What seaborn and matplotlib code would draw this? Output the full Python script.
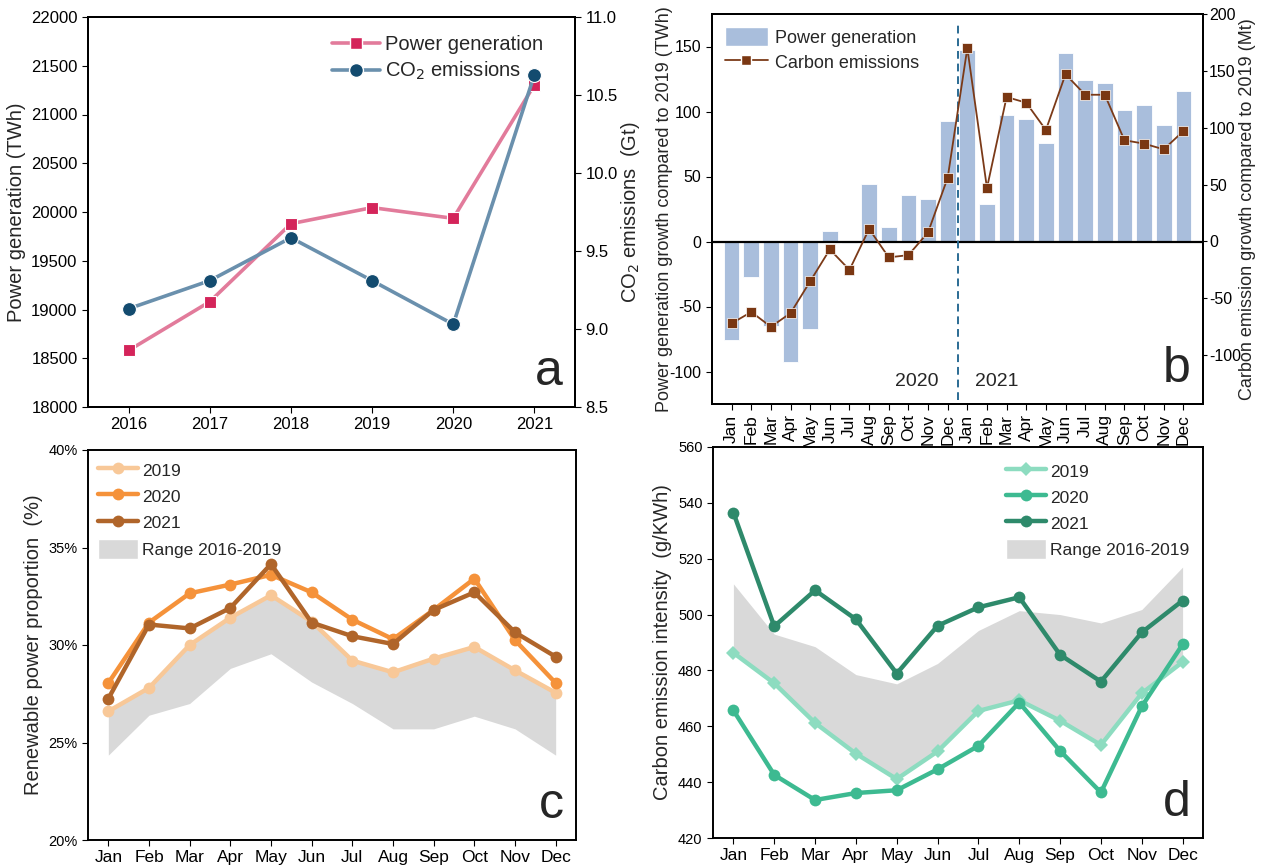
import numpy as np
import pandas as pd
import matplotlib
matplotlib.use("Agg")
import matplotlib.pyplot as plt
import seaborn as sns
from matplotlib.ticker import PercentFormatter
from matplotlib.lines import Line2D
from matplotlib.patches import Patch

# ---- panel a: annual totals
years = [2016, 2017, 2018, 2019, 2020, 2021]
power_twh = [18580, 19080, 19880, 20045, 19935, 21305]
co2_gt = [9.13, 9.31, 9.585, 9.31, 9.03, 10.63]

# ---- panel b: monthly growth vs 2019 (Jan 2020 .. Dec 2021)
months = ["Jan", "Feb", "Mar", "Apr", "May", "Jun",
          "Jul", "Aug", "Sep", "Oct", "Nov", "Dec"]
power_growth = [-76, -27, -65, -93, -67, 8, -1, 44, 11, 36, 33, 93,
                147, 29, 97, 94, 76, 145, 124, 122, 101, 105, 90, 116]
carbon_growth = [-72, -62, -75, -63, -35, -7, -25, 11, -14, -12, 8, 56,
                 170, 47, 127, 122, 98, 147, 129, 129, 89, 86, 81, 97]

# ---- panel c: renewable share (%)
renew_2019 = [26.6, 27.8, 30.0, 31.4, 32.55, 31.2, 29.2, 28.6, 29.3, 29.9, 28.7, 27.55]
renew_2020 = [28.05, 31.15, 32.65, 33.1, 33.6, 32.7, 31.3, 30.3, 31.8, 33.4, 30.25, 28.05]
renew_2021 = [27.25, 31.05, 30.85, 31.9, 34.15, 31.15, 30.45, 30.05, 31.8, 32.7, 30.65, 29.4]
renew_hi = [26.6, 27.8, 30.0, 31.4, 32.5, 31.2, 29.2, 28.6, 29.3, 29.9, 28.7, 27.5]
renew_lo = [24.35, 26.4, 27.0, 28.8, 29.55, 28.1, 27.0, 25.7, 25.7, 26.35, 25.7, 24.35]

# ---- panel d: carbon intensity (g/kWh)
inten_2019 = [486.3, 475.4, 461.2, 450.2, 441.1, 451.0, 465.5, 469.3, 462.0, 453.3, 471.8, 483.0]
inten_2020 = [465.7, 442.6, 433.6, 436.1, 437.1, 444.6, 453.0, 468.5, 451.2, 436.3, 467.1, 489.3]
inten_2021 = [536.5, 495.8, 508.7, 498.3, 478.9, 496.0, 502.6, 506.2, 485.6, 476.0, 493.6, 505.0]
inten_hi = [511, 493, 488.5, 478.5, 475.2, 482.5, 494.3, 501.4, 500, 497, 501.8, 517]
inten_lo = [487, 475, 461, 450, 441, 451, 465.5, 469, 462, 453, 471.5, 483]

sns.set_style("ticks")
plt.rcParams["font.family"] = ["Liberation Sans", "DejaVu Sans"]
plt.rcParams["axes.unicode_minus"] = False
plt.rcParams["axes.edgecolor"] = "black"
plt.rcParams["axes.linewidth"] = 1.4
plt.rcParams["xtick.color"] = "black"
plt.rcParams["ytick.color"] = "black"
plt.rcParams["xtick.major.size"] = 4
plt.rcParams["ytick.major.size"] = 4

W, H = 1266, 865
fig = plt.figure(figsize=(W / 100, H / 100), dpi=100)


def box(l, t, r, b):
    return [l / W, 1 - b / H, (r - l) / W, (b - t) / H]


# ================= a =================
ax_a = fig.add_axes(box(88, 17, 575, 407))
pink_line, pink_mk = "#e27b9b", "#d4245a"
blue_line, blue_mk = "#6a90ad", "#134b6f"
sns.lineplot(x=years, y=power_twh, ax=ax_a, color=pink_line, lw=2.6, marker="s",
             markersize=9, markerfacecolor=pink_mk, markeredgecolor="white",
             markeredgewidth=0.8, legend=False)
ax_a.set_xlim(2015.5, 2021.5)
ax_a.set_ylim(18000, 22000)
ax_a.set_xticks(years)
ax_a.set_yticks(range(18000, 22001, 500))
ax_a.set_ylabel("Power generation (TWh)", fontsize=14.5)
ax_a.tick_params(labelsize=12)

ax_a2 = ax_a.twinx()
sns.lineplot(x=years, y=co2_gt, ax=ax_a2, color=blue_line, lw=2.6, marker="o",
             markersize=10, markerfacecolor=blue_mk, markeredgecolor="white",
             markeredgewidth=0.8, legend=False)
ax_a2.set_ylim(8.5, 11.0)
ax_a2.set_yticks(np.arange(8.5, 11.01, 0.5))
ax_a2.set_yticklabels([f"{v:.1f}" for v in np.arange(8.5, 11.01, 0.5)])
ax_a2.set_ylabel("CO$_2$ emissions  (Gt)", fontsize=14.5)
ax_a2.yaxis.set_label_coords(1.09, 0.5)
ax_a2.tick_params(labelsize=12)
h_a = [Line2D([], [], color=pink_line, lw=2.6, marker="s", markersize=9,
              markerfacecolor=pink_mk, markeredgecolor="white"),
       Line2D([], [], color=blue_line, lw=2.6, marker="o", markersize=10,
              markerfacecolor=blue_mk, markeredgecolor="white")]
ax_a2.legend(h_a, ["Power generation", "CO$_2$ emissions"], loc="upper left",
             bbox_to_anchor=(0.464, 1.0), frameon=False, fontsize=14.5,
             handlelength=2.4, handletextpad=0.25, labelspacing=0.3)
ax_a2.text(0.975, 0.03, "a", transform=ax_a2.transAxes, fontsize=36,
           ha="right", va="bottom")

# ================= b =================
ax_b = fig.add_axes(box(712, 14, 1203, 404))
df_b = pd.DataFrame({"idx": range(24), "power": power_growth,
                     "carbon": carbon_growth})
bar_c = "#a9bedc"
sns.barplot(data=df_b, x="idx", y="power", ax=ax_b, color=bar_c, width=0.8,
            saturation=1, edgecolor="white", linewidth=0.6)
ax_b.set_xlim(-1, 24)
ax_b.set_ylim(-125, 175)
ax_b.set_yticks([-100, -50, 0, 50, 100, 150])
ax_b.set_xticks(range(24))
ax_b.set_xticklabels(months * 2, rotation=90, fontsize=12.5)
ax_b.tick_params(axis="y", labelsize=11.5)
ax_b.set_xlabel("")
ax_b.set_ylabel("Power generation growth compared to 2019 (TWh)", fontsize=13)
ax_b.yaxis.set_label_coords(-0.08, 0.5)
ax_b.axhline(0, color="black", lw=1.6, zorder=3)
ax_b.vlines(11.5, -122, 168, colors="#2b6b94", linestyles=(0, (4, 2.5)), lw=1.4,
            zorder=4)
ax_b.text(9.4, -108, "2020", fontsize=14, ha="center", va="center")
ax_b.text(13.5, -108, "2021", fontsize=14, ha="center", va="center")

ax_b2 = ax_b.twinx()
brown = "#7b3a18"
sns.lineplot(data=df_b, x="idx", y="carbon", ax=ax_b2, color=brown, lw=1.3,
             marker="s", markersize=7.5, markerfacecolor="#7a3712",
             markeredgecolor="white", markeredgewidth=0.5, legend=False)
ax_b2.set_ylim(-142.9, 200)
ax_b2.set_yticks([-100, -50, 0, 50, 100, 150, 200])
ax_b2.set_ylabel("Carbon emission growth compared to 2019 (Mt)", fontsize=13)
ax_b2.tick_params(labelsize=11.5, pad=1.5, length=3)
ax_b2.yaxis.set_label_coords(1.074, 0.5)
ax_b2.set_xlim(-1, 24)
h_b = [Patch(facecolor=bar_c, edgecolor="white"),
       Line2D([], [], color=brown, lw=1.3, marker="s", markersize=7.5,
              markerfacecolor="#7a3712", markeredgecolor="white")]
ax_b2.legend(h_b, ["Power generation", "Carbon emissions"], loc="upper left",
             frameon=False, fontsize=13, handlelength=2.4, handleheight=1.3,
             handletextpad=0.4, labelspacing=0.3, borderaxespad=0.3)
ax_b2.text(0.975, 0.03, "b", transform=ax_b2.transAxes, fontsize=36,
           ha="right", va="bottom")

# ================= c =================
ax_c = fig.add_axes(box(88, 450, 576, 840))
band = "#d9d9d9"
x12 = np.arange(12)
ax_c.fill_between(x12, renew_lo, renew_hi, color=band, lw=0, zorder=1)
c_cols = ["#f8c898", "#f5923a", "#b0652a"]
for vals, col in zip([renew_2019, renew_2020, renew_2021], c_cols):
    sns.lineplot(x=x12, y=vals, ax=ax_c, color=col, lw=3.2, marker="o",
                 markersize=8.5, markeredgewidth=0, legend=False, zorder=3)
ax_c.set_xlim(-0.5, 11.5)
ax_c.set_ylim(20, 40)
ax_c.set_yticks([20, 25, 30, 35, 40])
ax_c.yaxis.set_major_formatter(PercentFormatter(decimals=0))
ax_c.set_xticks(x12)
ax_c.set_xticklabels(months, fontsize=12.5)
ax_c.tick_params(axis="y", labelsize=10.5)
ax_c.set_ylabel("Renewable power proportion  (%)", fontsize=14.5)
h_c = [Line2D([], [], color=c, lw=3.2, marker="o", markersize=8.5,
              markeredgewidth=0) for c in c_cols] + [Patch(facecolor=band)]
ax_c.legend(h_c, ["2019", "2020", "2021", "Range 2016-2019"], loc="upper left",
            frameon=False, fontsize=12.5, handlelength=2.3, handleheight=1.4,
            handletextpad=0.2, labelspacing=0.35, borderaxespad=0.2)
ax_c.text(0.975, 0.03, "c", transform=ax_c.transAxes, fontsize=36,
          ha="right", va="bottom")

# ================= d =================
ax_d = fig.add_axes(box(713, 447, 1203, 838))
ax_d.fill_between(x12, inten_lo, inten_hi, color=band, lw=0, zorder=1)
d_cols = ["#8ddcc0", "#3dba91", "#2e8a6b"]
d_mk = ["D", "o", "o"]
for vals, col, mk in zip([inten_2019, inten_2020, inten_2021], d_cols, d_mk):
    sns.lineplot(x=x12, y=vals, ax=ax_d, color=col, lw=3.2, marker=mk,
                 markersize=8.5 if mk == "o" else 7.5, markeredgewidth=0,
                 legend=False, zorder=3)
ax_d.set_xlim(-0.5, 11.5)
ax_d.set_ylim(420, 560)
ax_d.set_yticks(range(420, 561, 20))
ax_d.set_xticks(x12)
ax_d.set_xticklabels(months, fontsize=12.5)
ax_d.tick_params(axis="y", labelsize=10.5)
ax_d.set_ylabel("Carbon emission intensity  (g/KWh)", fontsize=14.5)
h_d = [Line2D([], [], color=c, lw=3.2, marker=m, markersize=8.5 if m == "o" else 7.5,
              markeredgewidth=0) for c, m in zip(d_cols, d_mk)] + [Patch(facecolor=band)]
ax_d.legend(h_d, ["2019", "2020", "2021", "Range 2016-2019"], loc="upper right",
            frameon=False, fontsize=12.5, handlelength=2.3, handleheight=1.4,
            handletextpad=0.2, labelspacing=0.35, borderaxespad=0.4)
ax_d.text(0.975, 0.03, "d", transform=ax_d.transAxes, fontsize=36,
          ha="right", va="bottom")

fig.savefig("out.png", dpi=100)
